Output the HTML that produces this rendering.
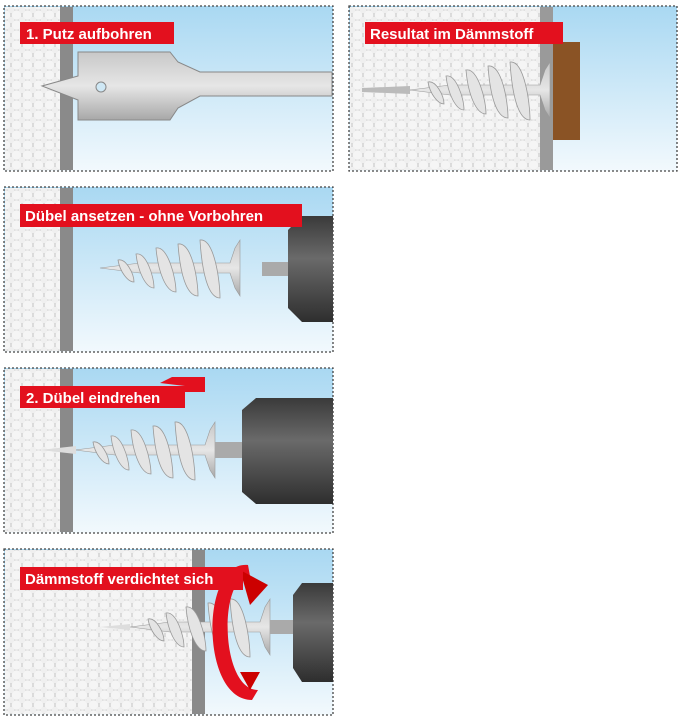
<!DOCTYPE html><html><head><style>body{margin:0;background:#fff}svg{display:block}text{font-family:"Liberation Sans",sans-serif;font-weight:bold;fill:#fff;font-size:15px}</style></head><body>
<svg width="685" height="720" viewBox="0 0 685 720">
<defs>
<pattern id="f" width="11" height="10" patternUnits="userSpaceOnUse"><rect width="11" height="10" fill="#d6d6d6"/><circle cx="5.5" cy="5" r="4.8" fill="#f5f5f5"/><circle cx="0" cy="0" r="3.2" fill="#efefef"/><circle cx="11" cy="0" r="3.2" fill="#efefef"/><circle cx="0" cy="10" r="3.2" fill="#efefef"/><circle cx="11" cy="10" r="3.2" fill="#efefef"/></pattern>
<linearGradient id="s" x1="0" y1="0" x2="0" y2="1"><stop offset="0" stop-color="#a9d8f2"/><stop offset="1" stop-color="#f2f9fd"/></linearGradient>
<linearGradient id="d" x1="0" y1="0" x2="0" y2="1"><stop offset="0" stop-color="#3a3a3a"/><stop offset=".4" stop-color="#6a6a6a"/><stop offset="1" stop-color="#2e2e2e"/></linearGradient>
<linearGradient id="m" x1="0" y1="0" x2="0" y2="1"><stop offset="0" stop-color="#c8c8c8"/><stop offset=".5" stop-color="#e6e6e6"/><stop offset="1" stop-color="#a8a8a8"/></linearGradient>
<g id="dub"><path d="M0 0 L40 -5 L130 -5 L135 -20 L140 -28 L140 28 L135 20 L130 5 L40 5 Z" fill="url(#m)" stroke="#999" stroke-width=".6"/>
<path d="M18 -8 C26 -10 34 6 34 14 C28 14 20 4 18 -8z M36 -14 C46 -16 54 8 54 20 C46 20 38 4 36 -14z M56 -20 C68 -22 76 10 76 24 C66 24 58 4 56 -20z M78 -24 C92 -26 98 12 98 28 C86 28 80 4 78 -24z M100 -28 C114 -30 120 12 120 30 C108 30 102 4 100 -28z" fill="#e4e4e4" stroke="#999" stroke-width=".8"/></g>
</defs>
<g stroke="#444" stroke-width="1.3" stroke-dasharray="2,2" >
<rect x="4" y="6" width="329" height="165" fill="url(#s)"/>
<rect x="349" y="6" width="328" height="165" fill="url(#s)"/>
<rect x="4" y="187" width="329" height="165" fill="url(#s)"/>
<rect x="4" y="368" width="329" height="165" fill="url(#s)"/>
<rect x="4" y="549" width="329" height="166" fill="url(#s)"/>
</g>
<!-- panel1 -->
<rect x="5" y="7" width="55" height="163" fill="url(#f)"/><rect x="60" y="7" width="13" height="163" fill="#8a8a8a"/>
<path d="M78 52 L170 52 L178 62 L200 72 L332 72 L332 96 L200 96 L178 108 L170 120 L78 120 L78 100 L42 86 L78 76 Z" fill="url(#m)" stroke="#888"/>
<circle cx="101" cy="87" r="5" fill="#cfe8f5" stroke="#888"/>
<rect x="20" y="22" width="154" height="22" fill="#e3101e"/><text x="26" y="39">1. Putz aufbohren</text>
<!-- panel2 -->
<rect x="350" y="7" width="190" height="163" fill="url(#f)"/><rect x="540" y="7" width="13" height="163" fill="#9a9a9a"/>
<rect x="553" y="42" width="27" height="98" fill="#8a5325"/>
<use href="#dub" x="410" y="90"/>
<path d="M362 88 L410 86 L410 94 L362 92Z" fill="#bbb"/>
<rect x="365" y="22" width="198" height="22" fill="#e3101e"/><text x="370" y="39">Resultat im Dämmstoff</text>
<!-- panel3 -->
<rect x="5" y="188" width="55" height="163" fill="url(#f)"/><rect x="60" y="188" width="13" height="163" fill="#8a8a8a"/>
<use href="#dub" x="100" y="268"/>
<rect x="262" y="262" width="28" height="14" fill="#aaa"/>
<path d="M288 230 L302 216 L333 216 L333 322 L302 322 L288 308Z" fill="url(#d)"/>
<rect x="20" y="204" width="282" height="23" fill="#e3101e"/><text x="25" y="221">Dübel ansetzen - ohne Vorbohren</text>
<!-- panel4 -->
<rect x="5" y="369" width="55" height="163" fill="url(#f)"/><rect x="60" y="369" width="13" height="163" fill="#8a8a8a"/>
<use href="#dub" x="75" y="450"/>
<path d="M40 450 L76 446 L76 454Z" fill="#ddd"/>
<rect x="215" y="442" width="28" height="16" fill="#aaa"/>
<path d="M242 410 L256 398 L333 398 L333 504 L256 504 L242 492Z" fill="url(#d)"/>
<path d="M160 383 L172 377 L205 377 L205 392 L185 392 L185 386 Z" fill="#e3101e"/>
<rect x="20" y="386" width="165" height="22" fill="#e3101e"/><text x="26" y="403">2. Dübel eindrehen</text>
<!-- panel5 -->
<rect x="5" y="550" width="187" height="164" fill="url(#f)"/><rect x="192" y="550" width="13" height="164" fill="#8a8a8a"/>
<use href="#dub" x="130" y="627"/>
<path d="M100 627 L130 624 L130 630Z" fill="#ddd"/>
<rect x="270" y="620" width="24" height="14" fill="#aaa"/>
<path d="M293 595 L302 583 L333 583 L333 682 L302 682 L293 668Z" fill="url(#d)"/>
<path d="M248 565 C 200 560, 200 700, 252 700 L258 690 C 220 690, 218 575, 250 576Z" fill="#e3101e"/>
<path d="M240 570 L268 585 L250 605 Z" fill="#c00"/><path d="M240 672 L260 672 L250 690Z" fill="#c00"/>
<rect x="20" y="567" width="223" height="23" fill="#e3101e"/><text x="25" y="584">Dämmstoff verdichtet sich</text>
</svg></body></html>
